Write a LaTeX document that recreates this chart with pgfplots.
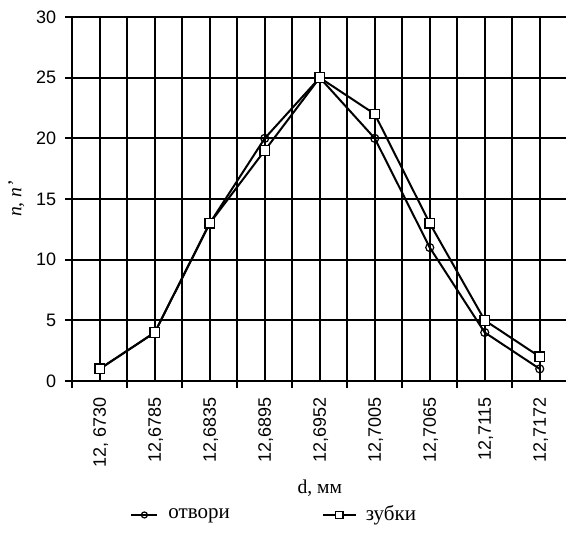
\documentclass[border=0pt]{standalone}
\usepackage{fontspec}
\setmainfont{Liberation Serif}
\setsansfont{Liberation Sans}
\usepackage{pgfplots}
\pgfplotsset{compat=1.18}
\pgfplotsset{
  legA/.style={legend image code/.code={\draw[##1, mark size=1.5pt, mark repeat=2, mark phase=2] plot coordinates {(0pt,0pt)(6.5pt,0pt)(13pt,0pt)}; \path (16pt,0pt);}},
  legB/.style={legend image code/.code={\draw[##1, mark size=1.8pt, mark repeat=2, mark phase=2] plot coordinates {(0pt,0pt)(8.25pt,0pt)(16.5pt,0pt)}; \path (19pt,0pt);}},
}
\begin{document}
\begin{tikzpicture}
\useasboundingbox (-36pt,-83.5pt) rectangle (247pt,190.5pt);
\begin{axis}[
  at={(0.125pt,0)}, anchor=south west,
  scale only axis, width=247.5pt, height=182pt,
  xmin=-0.5, xmax=8.5, ymin=0, ymax=30,
  axis x line*=bottom, axis y line*=left,
  axis line style={-, black, line width=1pt},
  tick align=outside,
  major tick length=3.5pt,
  minor tick length=3.5pt,
  tick style={black, line width=0.9pt},
  xtick={0,1,2,3,4,5,6,7,8},
  xticklabels={{12, 6730},{12,6785},{12,6835},{12,6895},{12,6952},{12,7005},{12,7065},{12,7115},{12,7172}},
  major x tick style={draw=none},
  minor xtick={-0.5,0.5,...,8.5},
  minor x tick style={black, line width=0.9pt},
  ytick={0,5,...,30},
  xmajorgrids=true, xminorgrids=true, ymajorgrids=true,
  major grid style={black, line width=1pt},
  minor grid style={black, line width=1pt},
  /pgf/number format/assume math mode=true,
  ticklabel style={font=\sffamily\fontsize{9}{10}\selectfont},
  xticklabel style={rotate=90, anchor=east, xshift=-1pt, yshift=-0.5pt},
  yticklabel style={xshift=-1pt},
  xlabel={d, мм},
  xlabel style={at={(rel axis cs:0.5,-0.294)}, anchor=center, font=\fontsize{9.8}{11}\selectfont},
  ylabel={\textit{n, n'}},
  ylabel style={at={(rel axis cs:-0.113,0.5)}, anchor=center, font=\fontsize{9.8}{11}\selectfont},
  legend columns=2,
  legend style={at={(rel axis cs:0.41,-0.368)}, anchor=center, draw=none, fill=none,
    font=\fontsize{10.5}{12}\selectfont, /tikz/every even column/.append style={column sep=44pt}},
]
\addplot[black, line width=1pt, mark=o, mark size=2pt, mark options={fill=white, line width=0.6pt}, legA]
  coordinates {(0,1)(1,4)(2,13)(3,20)(4,25)(5,20)(6,11)(7,4)(8,1)};
\addlegendentry{отвори}
\addplot[black, line width=1pt, mark=square*, mark size=2.4pt, mark options={fill=white, line width=0.6pt}, legB]
  coordinates {(0,1)(1,4)(2,13)(3,19)(4,25)(5,22)(6,13)(7,5)(8,2)};
\addlegendentry{зубки}
\end{axis}
\end{tikzpicture}
\end{document}
